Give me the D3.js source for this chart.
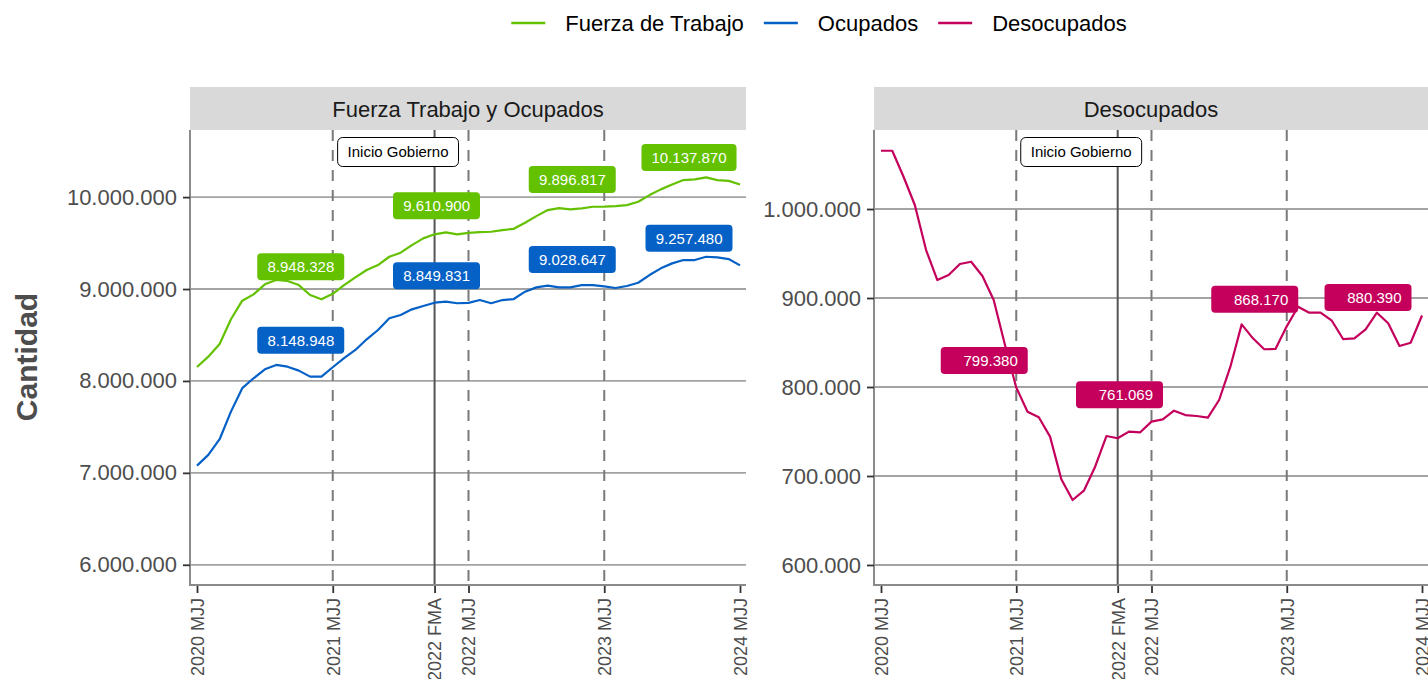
<!DOCTYPE html>
<html lang="es">
<head>
<meta charset="UTF-8">
<title>Fuerza de Trabajo, Ocupados y Desocupados</title>
<script src="https://cdn.jsdelivr.net/npm/d3@7"></script>
<style>
  body { margin: 0; background: #fff; }
  svg { font-family: "Liberation Sans", Arial, Helvetica, sans-serif; }
  .grid line { stroke: #a3a3a3; stroke-width: 1.8px; }
  .axis text { fill: #4d4d4d; }
  .axis line { stroke: #333; stroke-width: 1.8px; }
  .axis path { display: none; }
  .strip text { fill: #1a1a1a; font-size: 22px; text-anchor: middle; }
</style>
</head>
<body>
<script>
  // periodos: trimestres moviles desde 2020 MJJ hasta 2024 MJJ
  var trimestres = ["EFM","FMA","MAM","AMJ","MJJ","JJA","JAS","ASO","SON","OND","NDE","DEF"];
  var periodos = [];
  for (var k = 0; k < 49; k++) {
    var m = 4 + k;
    periodos.push((2020 + Math.floor(m / 12)) + " " + trimestres[m % 12]);
  }

  var ticksX = ["2020 MJJ","2021 MJJ","2022 FMA","2022 MJJ","2023 MJJ","2024 MJJ"];
  var lineasPunteadas = ["2021 MJJ","2022 MJJ","2023 MJJ"];
  var inicioGobierno = "2022 FMA";
  var periodosEtiqueta = ["2021 MJJ","2022 MJJ","2023 MJJ","2024 MJJ"];

  var fuerzaTrabajo = [
    8152000, 8264000, 8402000, 8671000, 8873000, 8942000, 9051000, 9098000, 9087000, 9043000,
    8935000, 8888000, 8948328, 9043000, 9127000, 9207000, 9261000, 9351000, 9395000, 9478000,
    9551000, 9595000, 9616000, 9595000, 9610900, 9620000, 9623000, 9641000, 9655000, 9721000,
    9793000, 9859000, 9880000, 9866000, 9877000, 9895000, 9896817, 9902000, 9913000, 9949000,
    10022000, 10084000, 10138000, 10185000, 10192000, 10214000, 10185000, 10177000, 10137870
  ];
  var ocupados = [
    7079000, 7196000, 7366000, 7666000, 7921000, 8029000, 8127000, 8174000, 8155000, 8112000,
    8047000, 8047000, 8148948, 8247000, 8337000, 8453000, 8554000, 8682000, 8717000, 8779000,
    8815000, 8851000, 8862000, 8845000, 8849831, 8880000, 8845000, 8880000, 8891000, 8971000,
    9018000, 9036000, 9018000, 9018000, 9043000, 9043000, 9028647, 9011000, 9033000, 9068000,
    9152000, 9225000, 9279000, 9315000, 9315000, 9351000, 9345000, 9326000, 9257480
  ];
  var desocupados = [
    1065500, 1065500, 1036300, 1004500, 953900, 920200, 925800, 938200, 940800, 924700,
    897800, 847200, 799380, 772200, 766000, 744200, 696300, 673000, 683500, 710400,
    744900, 742400, 749800, 749100, 761069, 763700, 773400, 768500, 767400, 765500,
    785400, 822800, 870400, 854700, 842400, 842700, 868170, 890200, 883500, 883500,
    874500, 853900, 854700, 864800, 883500, 871600, 846100, 849800, 880390
  ];

  var ticksIzq = [6000000, 7000000, 8000000, 9000000, 10000000];
  var ticksDer = [600000, 700000, 800000, 900000, 1000000];

  var colores = {"Fuerza de Trabajo": "#63c100", "Ocupados": "#0561c6", "Desocupados": "#c4005c"};

  // formato con punto de miles
  var es = d3.formatLocale({decimal: ",", thousands: ".", grouping: [3], currency: ["$", ""]});
  var fmt = es.format(",d");

  var width = 1428, height = 679;
  var plotTop = 130, plotBottom = 585;

  var svg = d3.select("body").append("svg")
    .attr("width", width)
    .attr("height", height);

  var paneles = [
    {titulo: "Fuerza Trabajo y Ocupados", x0: 190, x1: 746, dominio: [5780000, 10730000], ticks: ticksIzq,
     series: [{nombre: "Fuerza de Trabajo", valores: fuerzaTrabajo}, {nombre: "Ocupados", valores: ocupados}],
     // desplazamiento de las etiquetas (la ultima queda dentro del panel)
     desp: [[-32, -27], [-32, -27], [-32, -27], [-51, -27]]},
    {titulo: "Desocupados", x0: 874, x1: 1428, dominio: [577500, 1088800], ticks: ticksDer,
     series: [{nombre: "Desocupados", valores: desocupados}],
     desp: [[-32, -27], [-32, -27], [-32, -27], [-54, -18]]}
  ];

  paneles.forEach(function(p) {
    var x = d3.scaleLinear().domain([0, periodos.length - 1]).range([p.x0 + 7, p.x1 - 6]);
    var y = d3.scaleLinear().domain(p.dominio).range([plotBottom, plotTop]);
    var xp = function(lbl) { return x(periodos.indexOf(lbl)); };

    var g = svg.append("g");

    // cabecera del panel
    var strip = g.append("g").attr("class", "strip");
    strip.append("rect")
      .attr("x", p.x0).attr("y", 87)
      .attr("width", p.x1 - p.x0).attr("height", plotTop - 87)
      .attr("fill", "#d9d9d9");
    strip.append("text")
      .attr("x", (p.x0 + p.x1) / 2).attr("y", 117)
      .text(p.titulo);

    // grilla horizontal
    g.append("g").attr("class", "grid")
      .selectAll("line").data(p.ticks).enter().append("line")
      .attr("x1", p.x0).attr("x2", p.x1)
      .attr("y1", function(d) { return y(d); })
      .attr("y2", function(d) { return y(d); });

    // lineas verticales punteadas
    g.selectAll(".vdash").data(lineasPunteadas).enter().append("line")
      .attr("class", "vdash")
      .attr("x1", xp).attr("x2", xp)
      .attr("y1", plotTop).attr("y2", plotBottom)
      .attr("stroke", "#7a7a7a").attr("stroke-width", 2)
      .attr("stroke-dasharray", "11,9");

    g.append("line")
      .attr("x1", xp(inicioGobierno)).attr("x2", xp(inicioGobierno))
      .attr("y1", plotTop).attr("y2", plotBottom)
      .attr("stroke", "#555").attr("stroke-width", 2);

    // ejes
    g.append("line")
      .attr("x1", p.x0).attr("x2", p.x0).attr("y1", plotTop).attr("y2", plotBottom + 1)
      .attr("stroke", "#8a8a8a").attr("stroke-width", 2);
    g.append("line")
      .attr("x1", p.x0 - 1).attr("x2", p.x1).attr("y1", plotBottom).attr("y2", plotBottom)
      .attr("stroke", "#8a8a8a").attr("stroke-width", 2);

    g.append("g").attr("class", "axis")
      .attr("transform", "translate(" + p.x0 + ",0)")
      .call(d3.axisLeft(y).tickValues(p.ticks).tickFormat(fmt).tickSize(7).tickPadding(6).tickSizeOuter(0))
      .selectAll("text").style("font-size", "22px").attr("font-family", null);

    var ax = g.append("g").attr("class", "axis")
      .attr("transform", "translate(0," + (plotBottom + 1) + ")")
      .call(d3.axisBottom(x).tickValues(ticksX.map(function(t) { return periodos.indexOf(t); }))
        .tickFormat(function(i) { return periodos[i]; }).tickSize(7).tickSizeOuter(0));
    ax.selectAll("text")
      .style("font-size", "18px")
      .attr("font-family", null)
      .attr("text-anchor", "end")
      .attr("transform", "rotate(-90)")
      .attr("x", -12).attr("y", 0).attr("dy", "0.35em");

    // series
    var linea = d3.line()
      .x(function(d, i) { return x(i); })
      .y(function(d) { return y(d); });

    p.series.forEach(function(s) {
      g.append("path")
        .datum(s.valores)
        .attr("d", linea)
        .attr("fill", "none")
        .attr("stroke", colores[s.nombre])
        .attr("stroke-width", 2.2)
        .attr("stroke-linejoin", "round");
    });

    // etiquetas con valores
    p.series.forEach(function(s) {
      periodosEtiqueta.forEach(function(per, j) {
        var i = periodos.indexOf(per);
        var cx = x(i) + p.desp[j][0];
        var cy = y(s.valores[i]) + p.desp[j][1];
        var lg = g.append("g");
        var t = lg.append("text")
          .attr("y", cy).attr("dy", "0.36em")
          .attr("fill", "#fff")
          .style("font-size", "15px")
          .text(fmt(s.valores[i]));
        var tl = t.node().getComputedTextLength();
        var bw = Math.max(tl + 20, 87);
        lg.insert("rect", "text")
          .attr("x", cx - bw / 2).attr("y", cy - 13.5)
          .attr("width", bw).attr("height", 27)
          .attr("rx", 4)
          .attr("fill", colores[s.nombre]);
        t.attr("x", cx + bw / 2 - 10).attr("text-anchor", "end");
      });
    });

    // Inicio Gobierno
    var ig = g.append("g");
    var cxg = xp(inicioGobierno) - 36.5;
    var tg = ig.append("text")
      .attr("x", cxg).attr("y", 152).attr("dy", "0.36em")
      .attr("text-anchor", "middle")
      .style("font-size", "15px")
      .attr("fill", "#000")
      .text("Inicio Gobierno");
    var wg = tg.node().getComputedTextLength() + 20;
    ig.insert("rect", "text")
      .attr("x", cxg - wg / 2).attr("y", 137.5)
      .attr("width", wg).attr("height", 29)
      .attr("rx", 5)
      .attr("fill", "#fff").attr("stroke", "#000").attr("stroke-width", 1);
  });

  // titulo del eje y
  svg.append("text")
    .attr("transform", "translate(37,357) rotate(-90)")
    .attr("text-anchor", "middle")
    .attr("fill", "#4d4d4d")
    .style("font-size", "30px")
    .style("font-weight", "bold")
    .text("Cantidad");

  // leyenda
  var nombres = ["Fuerza de Trabajo", "Ocupados", "Desocupados"];
  var leg = svg.append("g");
  var cursor = 0;
  nombres.forEach(function(n) {
    var it = leg.append("g").attr("transform", "translate(" + cursor + ",0)");
    it.append("line")
      .attr("x1", 0).attr("x2", 34).attr("y1", 23).attr("y2", 23)
      .attr("stroke", colores[n]).attr("stroke-width", 2.5);
    var tx = it.append("text")
      .attr("x", 54).attr("y", 23).attr("dy", "0.36em")
      .attr("fill", "#000")
      .style("font-size", "22px")
      .text(n);
    cursor += 54 + tx.node().getComputedTextLength() + 20;
  });
  leg.attr("transform", "translate(" + (819 - (cursor - 20) / 2) + ",0)");
</script>
</body>
</html>
